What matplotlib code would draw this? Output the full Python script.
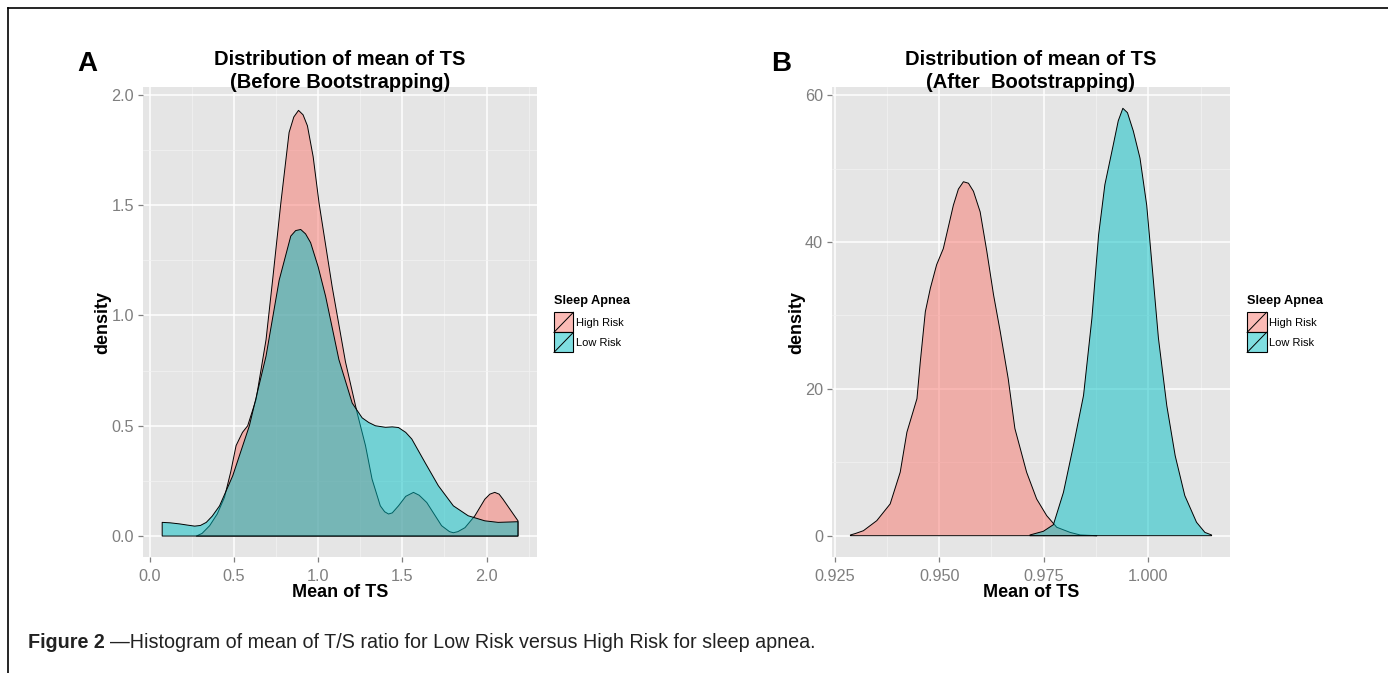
import numpy as np
import matplotlib.pyplot as plt
from matplotlib.colors import to_rgb
from matplotlib.patches import Rectangle
from matplotlib.lines import Line2D
from matplotlib.legend_handler import HandlerBase

# Panel A: density before bootstrapping
a_high_x = [0.276, 0.31, 0.355, 0.40, 0.443, 0.48, 0.512, 0.55, 0.581, 0.631, 0.69, 0.729,
            0.778, 0.827, 0.855, 0.883, 0.91, 0.936, 0.97, 1.005, 1.083, 1.162, 1.231,
            1.281, 1.32, 1.369, 1.395, 1.418, 1.44, 1.477, 1.52, 1.566, 1.60, 1.645,
            1.733, 1.78, 1.803, 1.83, 1.872, 1.931, 1.99, 2.02, 2.049, 2.075, 2.098, 2.187]
a_high_y = [0.0, 0.012, 0.047, 0.1, 0.175, 0.29, 0.41, 0.47, 0.5, 0.62, 0.89, 1.16,
            1.51, 1.83, 1.9, 1.93, 1.91, 1.86, 1.72, 1.51, 1.13, 0.79, 0.56,
            0.41, 0.258, 0.137, 0.11, 0.1, 0.105, 0.137, 0.18, 0.198, 0.185, 0.152,
            0.047, 0.02, 0.015, 0.02, 0.038, 0.092, 0.167, 0.19, 0.198, 0.19, 0.167, 0.069]
a_low_x = [0.073, 0.12, 0.177, 0.22, 0.266, 0.30, 0.335, 0.37, 0.414, 0.492, 0.591, 0.69,
           0.768, 0.837, 0.866, 0.896, 0.925, 0.955, 1.0, 1.044, 1.123, 1.202, 1.261, 1.30,
           1.34, 1.40, 1.44, 1.477, 1.52, 1.556, 1.635, 1.714, 1.803, 1.891, 1.99, 2.069,
           2.187]
a_low_y = [0.062, 0.06, 0.055, 0.05, 0.045, 0.048, 0.062, 0.09, 0.137, 0.273, 0.5, 0.816,
           1.16, 1.36, 1.385, 1.39, 1.37, 1.33, 1.22, 1.087, 0.8, 0.603, 0.536, 0.515,
           0.5, 0.493, 0.495, 0.492, 0.47, 0.44, 0.333, 0.228, 0.137, 0.092, 0.069, 0.062,
           0.065]

# Panel B: density after bootstrapping
b_high_x = [0.9288, 0.9300, 0.9319, 0.9351, 0.9383, 0.9407, 0.9423, 0.9447, 0.9455, 0.9467,
            0.9479, 0.9494, 0.951, 0.9534, 0.9546, 0.9558, 0.957, 0.9582, 0.9598, 0.9614,
            0.963, 0.9646, 0.9665, 0.9681, 0.9709, 0.9733, 0.9757, 0.9781, 0.9813, 0.9837,
            0.9877]
b_high_y = [0.1, 0.3, 0.68, 2.05, 4.33, 8.65, 14.1, 18.66, 23.7, 30.5,
            33.7, 36.9, 39.1, 45.0, 47.2, 48.2, 48.0, 46.9, 44.1, 38.7,
            32.8, 27.8, 21.4, 14.6, 8.65, 5.0, 2.73, 1.15, 0.45, 0.1,
            0.0]
b_low_x = [0.9717, 0.9749, 0.9773, 0.9797, 0.9821, 0.9845, 0.9865, 0.9881, 0.9896, 0.9916,
           0.9928, 0.9939, 0.995, 0.9964, 0.998, 0.9996, 1.0008, 1.0024, 1.0044, 1.0064,
           1.0087, 1.0115, 1.0135, 1.0151]
b_low_y = [0.1, 0.6, 1.5, 5.9, 12.3, 19.1, 29.6, 40.95, 47.8, 53.2,
           56.5, 58.2, 57.6, 55.1, 51.4, 45.0, 37.3, 26.9, 17.7, 10.9,
           5.46, 1.83, 0.45, 0.1]

groups = ['High Risk', 'Low Risk']
colors = ['#F8766D', '#00BFC4']

a_xticks = [0.0, 0.5, 1.0, 1.5, 2.0]
a_xlabels = ['0.0', '0.5', '1.0', '1.5', '2.0']
a_yticks = [0.0, 0.5, 1.0, 1.5, 2.0]
a_ylabels = ['0.0', '0.5', '1.0', '1.5', '2.0']
b_xticks = [0.925, 0.950, 0.975, 1.000]
b_xlabels = ['0.925', '0.950', '0.975', '1.000']
b_yticks = [0, 20, 40, 60]
b_ylabels = ['0', '20', '40', '60']

plt.rcParams['font.family'] = ['Liberation Sans', 'DejaVu Sans']


class DiagKey(HandlerBase):
    def create_artists(self, legend, orig_handle, xdescent, ydescent, width, height, fontsize, trans):
        x0, y0 = -xdescent, -ydescent
        r = Rectangle((x0, y0), width, height, facecolor=orig_handle.get_facecolor(),
                      edgecolor='black', lw=0.8, transform=trans)
        d = Line2D([x0, x0 + width], [y0, y0 + height], color='black', lw=0.7, transform=trans)
        return [r, d]


def density_panel(ax, series, xlim, ylim, xticks, xlabels, yticks, ylabels, title):
    ax.set_facecolor('#E5E5E5')
    handles = []
    for (xs, ys), col, name in zip(series, colors, groups):
        xs = np.asarray(xs)
        ys = np.asarray(ys)
        px = np.concatenate([[xs[0]], xs, [xs[-1]]])
        py = np.concatenate([[0.0], ys, [0.0]])
        h = ax.fill(px, py, facecolor=(*to_rgb(col), 0.5), edgecolor='black', lw=0.7,
                    joinstyle='round', label=name)[0]
        handles.append(h)
    ax.set_xticks(xticks)
    ax.set_xticklabels(xlabels)
    ax.set_yticks(yticks)
    ax.set_yticklabels(ylabels)
    step = xticks[1] - xticks[0]
    xm = [t + step / 2 for t in xticks] + [xticks[0] - step / 2]
    ystep = yticks[1] - yticks[0]
    ym = [t + ystep / 2 for t in yticks]
    ax.set_xticks(xm, minor=True)
    ax.set_yticks(ym, minor=True)
    ax.set_xlim(*xlim)
    ax.set_ylim(*ylim)
    ax.grid(which='major', color='white', lw=1.1)
    ax.grid(which='minor', color='#F2F2F2', lw=0.5)
    ax.set_axisbelow(True)
    for s in ax.spines.values():
        s.set_visible(False)
    ax.tick_params(which='major', length=3.5, width=0.9, color='#7F7F7F',
                   labelcolor='#7F7F7F', labelsize=11.7)
    ax.tick_params(axis='x', which='major', pad=5)
    ax.tick_params(axis='y', which='major', pad=3)
    ax.tick_params(which='minor', length=0)
    ax.set_xlabel('Mean of TS', fontsize=13, fontweight='bold', labelpad=0)
    ax.set_ylabel('density', fontsize=13, fontweight='bold', labelpad=0)
    ax.set_title(title, fontsize=14.5, fontweight='bold', linespacing=1.3, y=1.0, pad=-1)
    leg = ax.legend(handles=handles, labels=groups, handler_map={h: DiagKey() for h in handles},
                    loc='upper left', bbox_to_anchor=(1.043, 0.558), frameon=False,
                    title='Sleep Apnea', fontsize=8, alignment='left',
                    handlelength=1.75, handleheight=2.4, handletextpad=0.25,
                    labelspacing=0.0, borderpad=0, borderaxespad=0)
    leg.get_title().set_fontweight('bold')
    leg.get_title().set_fontsize(9.2)
    leg._legend_box.sep = 4
    return ax


fig = plt.figure(figsize=(13.88, 6.73), dpi=100)
ax1 = fig.add_axes([143 / 1388, 1 - 557 / 673, 394 / 1388, 470 / 673])
ax2 = fig.add_axes([832 / 1388, 1 - 557 / 673, 398 / 1388, 470 / 673])

density_panel(ax1, [(a_high_x, a_high_y), (a_low_x, a_low_y)], (-0.041, 2.3), (-0.095, 2.036),
              a_xticks, a_xlabels, a_yticks, a_ylabels,
              'Distribution of mean of TS\n(Before Bootstrapping)')
density_panel(ax2, [(b_high_x, b_high_y), (b_low_x, b_low_y)], (0.9244, 1.0195), (-2.9, 61.1),
              b_xticks, b_xlabels, b_yticks, b_ylabels,
              'Distribution of mean of TS\n(After  Bootstrapping)')

fig.text(77 / 1388, 1 - 71 / 673, 'A', fontsize=20, fontweight='bold')
fig.text(771 / 1388, 1 - 71 / 673, 'B', fontsize=20, fontweight='bold')

# caption
cap_font = ['Liberation Sans Narrow', 'Liberation Sans', 'DejaVu Sans']
t = fig.text(28 / 1388, 1 - 648 / 673, 'Figure 2', fontsize=14.2, fontweight='bold',
             family=cap_font, color='#222222')
fig.canvas.draw()
bb = t.get_window_extent()
fig.text(bb.x1 / 1388 + 5 / 1388, 1 - 648 / 673,
         '\u2014Histogram of mean of T/S ratio for Low Risk versus High Risk for sleep apnea.',
         fontsize=14.2, family=cap_font, color='#222222')

# outer frame
fig.add_artist(Line2D([8 / 1388, 1.0], [1 - 8 / 673, 1 - 8 / 673], color='black', lw=1.2))
fig.add_artist(Line2D([8 / 1388, 8 / 1388], [0, 1 - 8 / 673], color='black', lw=1.2))

fig.savefig('out.png', dpi=100)
